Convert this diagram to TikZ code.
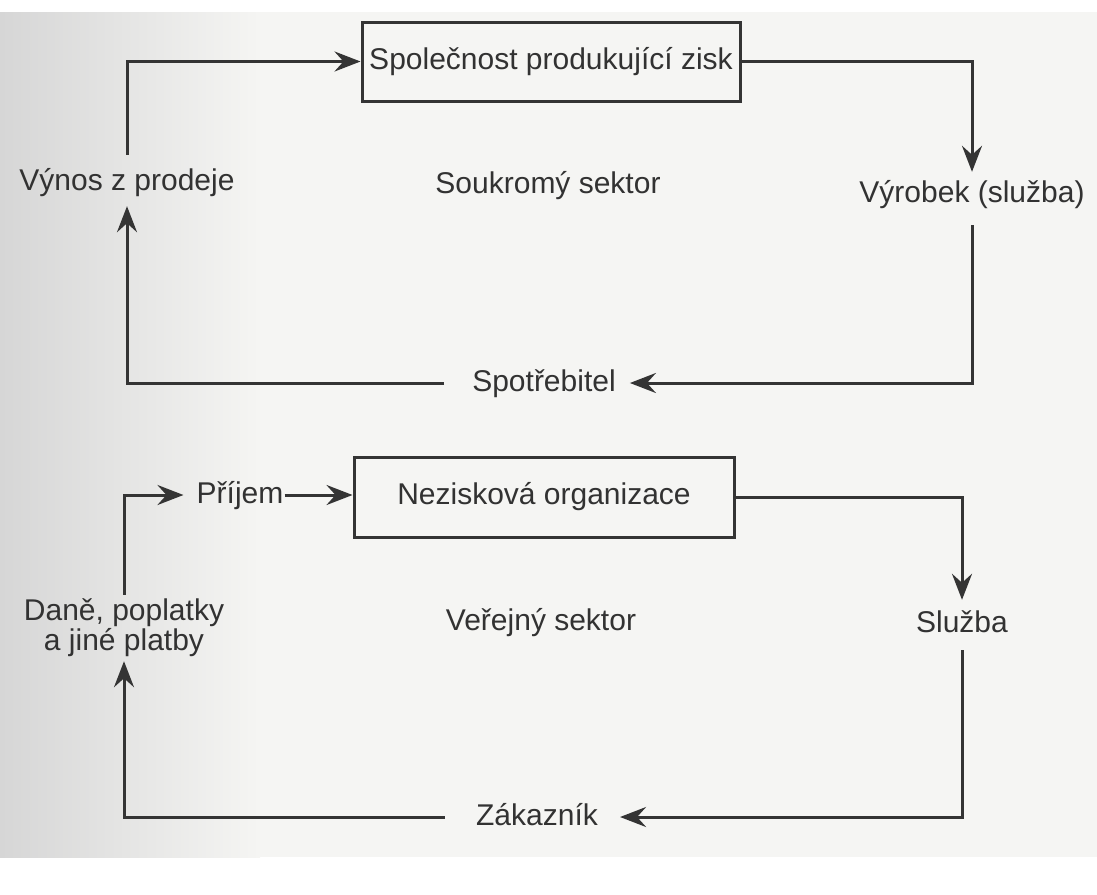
\documentclass[tikz,border=0pt]{standalone}
\usepackage{fontspec}
\setmainfont{Liberation Sans}
\usetikzlibrary{arrows.meta}
\definecolor{ink}{RGB}{52,52,52}
\definecolor{txt}{RGB}{50,50,50}
\definecolor{paper}{RGB}{245,245,243}
\definecolor{margin}{RGB}{214,214,214}
\tikzset{
  lbl/.style={font=\fontsize{30}{30}\selectfont, text=txt, inner sep=0pt,
    text height=22pt, text depth=6pt, anchor=base},
  lbltwo/.style={font=\fontsize{30}{30}\selectfont, text=txt, inner sep=0pt,
    align=center, anchor=center},
  boxnode/.style={draw=ink, line width=3pt, font=\fontsize{30}{30}\selectfont,
    text=txt, inner sep=0pt},
  flow/.style={draw=ink, line width=3pt,
    -{Stealth[length=26pt,width=20pt,inset=9pt]}},
}
\begin{document}
\begin{tikzpicture}[x=1pt,y=-1pt]
\useasboundingbox (0,0) rectangle (1097,894);
% scanned page tone
\fill[paper] (0,12) rectangle (1097,857);
\shade[left color=margin, right color=paper] (0,12) rectangle (260,857);

% ---------- private sector ----------
\node[boxnode, minimum width=378pt, minimum height=79pt] (firma) at (551,61.5)
  {Společnost produkující zisk};
\node[lbl] (vynos) at (127,190) {Výnos z prodeje};
\node[lbl] (soukromy) at (548,193) {Soukromý sektor};
\node[lbl] (vyrobek) at (972,202) {Výrobek (služba)};
\node[lbl] (spotrebitel) at (544,391) {Spotřebitel};

\draw[flow, shorten <=13pt] (vynos.north) |- (firma.west);
\draw[flow, shorten >=8pt] (firma.east) -| (vyrobek.north);
\draw[flow, shorten <=17pt, shorten >=14pt] (vyrobek.south) |- (spotrebitel.east);
\draw[flow, shorten <=28pt, shorten >=10pt] (spotrebitel.west) -| (vynos.south);

% ---------- public sector ----------
\node[boxnode, minimum width=380pt, minimum height=80pt] (nezisk) at (544,497)
  {Nezisková organizace};
\node[lbl] (prijem) at (240,503) {Příjem};
\node[lbltwo] (dane) at (124,628) {Daně, poplatky\\a jiné platby};
\node[lbl] (verejny) at (541,630) {Veřejný sektor};
\node[lbl] (sluzba) at (962,632) {Služba};
\node[lbl] (zakaznik) at (537,825) {Zákazník};

\draw[flow, shorten <=4pt, shorten >=13pt] (dane.north) |- (prijem.west);
\draw[flow, shorten <=1pt] (prijem.east) -- (prijem.east -| nezisk.west);
\draw[flow, shorten >=10pt] (nezisk.east) -| (sluzba.north);
\draw[flow, shorten <=12pt, shorten >=22pt] (sluzba.south) |- (zakaznik.east);
\draw[flow, shorten <=31pt, shorten >=4pt] (zakaznik.west) -| (dane.south);
\end{tikzpicture}
\end{document}
